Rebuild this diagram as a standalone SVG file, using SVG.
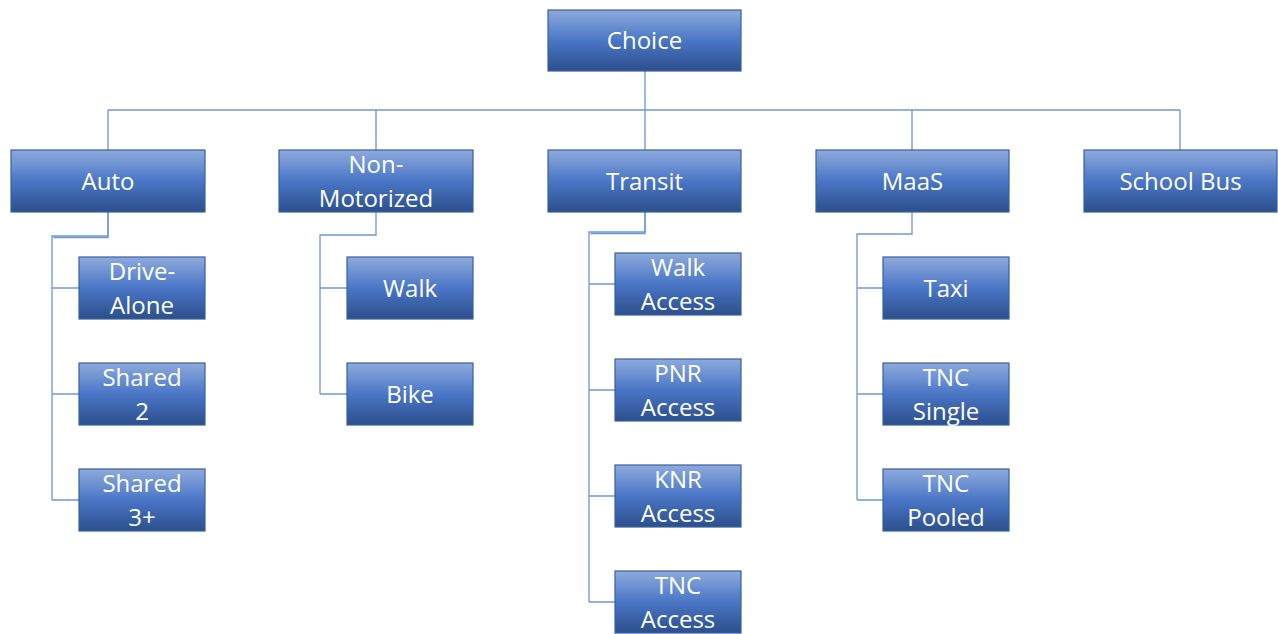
<svg xmlns="http://www.w3.org/2000/svg" width="1278" height="634" viewBox="0 0 1278 634">
<defs>
<linearGradient id="g" x1="0" y1="0" x2="0" y2="1">
<stop offset="0" stop-color="#8eaadc"/>
<stop offset="0.5" stop-color="#4a76c6"/>
<stop offset="1" stop-color="#2c4f8c"/>
</linearGradient>
</defs>
<style>
.n rect{fill:url(#g);stroke:#3a5f9e;stroke-width:1.2}
.n text{fill:#fff;font-family:"Open Sans","Liberation Sans",sans-serif;font-size:24px;text-anchor:middle}
.c path{fill:none;stroke:#6f96d6;stroke-width:1.3}
</style>
<rect width="1278" height="634" fill="#fff"/>
<g class="c" id="connectors">
<path d="M645 71V150M108 110H1180M108 110V150M376 110V150M912 110V150M1180 110V150"/>
<path d="M108 212V236H52V500M52 288H79M52 394H79M52 500H79"/>
<path d="M108 212V237.5H53.5"/>
<path d="M376 212V235H320V394M320 288H347M320 394H347"/>
<path d="M645 212V232H589V602M589 284H615M589 390H615M589 496H615M589 602H615"/>
<path d="M645 212V233.5H590.5"/>
<path d="M912 212V234H857V500M857 288H883M857 394H883M857 500H883"/>
</g>
<g class="n" id="choice"><rect x="548" y="10" width="193" height="61"/><text x="644.5" y="49">Choice</text></g>
<g class="n" id="auto"><rect x="11" y="150" width="194" height="62"/><text x="108" y="190">Auto</text></g>
<g class="n" id="nonmotorized"><rect x="279" y="150" width="194" height="62"/><text x="376" y="173">Non-</text><text x="376" y="207">Motorized</text></g>
<g class="n" id="transit"><rect x="548" y="150" width="193" height="62"/><text x="644.5" y="190">Transit</text></g>
<g class="n" id="maas"><rect x="816" y="150" width="193" height="62"/><text x="912.5" y="190">MaaS</text></g>
<g class="n" id="schoolbus"><rect x="1084" y="150" width="193" height="62"/><text x="1180.5" y="190">School Bus</text></g>
<g class="n" id="drivealone"><rect x="79" y="257" width="126" height="62"/><text x="142" y="280">Drive-</text><text x="142" y="314">Alone</text></g>
<g class="n" id="shared2"><rect x="79" y="363" width="126" height="62"/><text x="142" y="386">Shared</text><text x="142" y="420">2</text></g>
<g class="n" id="shared3"><rect x="79" y="469" width="126" height="62"/><text x="142" y="492">Shared</text><text x="142" y="526">3+</text></g>
<g class="n" id="walk"><rect x="347" y="257" width="126" height="62"/><text x="410" y="297">Walk</text></g>
<g class="n" id="bike"><rect x="347" y="363" width="126" height="62"/><text x="410" y="403">Bike</text></g>
<g class="n" id="walkaccess"><rect x="615" y="253" width="126" height="62"/><text x="678" y="276">Walk</text><text x="678" y="310">Access</text></g>
<g class="n" id="pnraccess"><rect x="615" y="359" width="126" height="62"/><text x="678" y="382">PNR</text><text x="678" y="416">Access</text></g>
<g class="n" id="knraccess"><rect x="615" y="465" width="126" height="62"/><text x="678" y="488">KNR</text><text x="678" y="522">Access</text></g>
<g class="n" id="tncaccess"><rect x="615" y="571" width="126" height="62"/><text x="678" y="594">TNC</text><text x="678" y="628">Access</text></g>
<g class="n" id="taxi"><rect x="883" y="257" width="126" height="62"/><text x="946" y="297">Taxi</text></g>
<g class="n" id="tncsingle"><rect x="883" y="363" width="126" height="62"/><text x="946" y="386">TNC</text><text x="946" y="420">Single</text></g>
<g class="n" id="tncpooled"><rect x="883" y="469" width="126" height="62"/><text x="946" y="492">TNC</text><text x="946" y="526">Pooled</text></g>
</svg>
